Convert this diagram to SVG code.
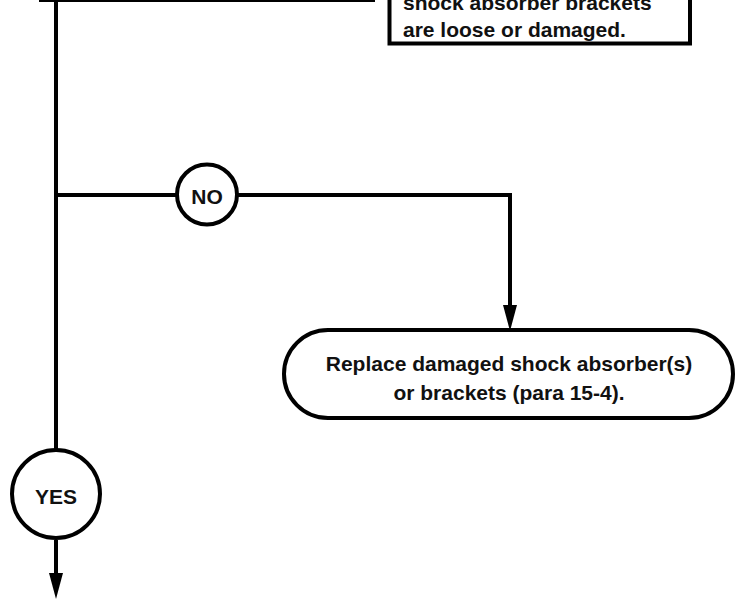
<svg xmlns="http://www.w3.org/2000/svg" width="736" height="602" viewBox="0 0 736 602">
  <style>
    .box { fill: #ffffff; stroke: #000000; stroke-width: 4; }
    .wire { fill: none; stroke: #000000; stroke-width: 4; }
    .lbl { font-family: "Liberation Sans", Arial, sans-serif; font-weight: bold; font-size: 21px; fill: #111111; }
  </style>
  <defs>
    <marker id="arrow" markerUnits="userSpaceOnUse" markerWidth="14" markerHeight="26" refX="7" refY="26" orient="auto-start-reverse" viewBox="0 0 14 26">
      <path d="M0,0 L14,0 L7,26 Z" fill="#000000"/>
    </marker>
  </defs>

  <!-- connectors -->
  <g id="connectors">
    <!-- main trunk down to the YES circle -->
    <line class="wire" x1="56" y1="0" x2="56" y2="450"/>
    <!-- NO branch -->
    <line class="wire" x1="56" y1="195" x2="177" y2="195"/>
    <polyline class="wire" points="237,195 510,195 510,306"/>
    <path d="M503,305 L517,305 L510,331 Z" fill="#000000"/>
    <!-- YES exit -->
    <line class="wire" x1="56" y1="540" x2="56" y2="574"/>
    <path d="M49,573 L63,573 L56,599 Z" fill="#000000"/>
  </g>

  <!-- upper step box (bottom edge only in view) -->
  <g id="step-top">
    <rect class="box" x="41" y="-100" width="332" height="100"/>
  </g>

  <!-- check box -->
  <g id="check-brackets">
    <rect class="box" x="389.5" y="-80" width="300.5" height="123.5"/>
    <text class="lbl" x="403" y="10">shock absorber brackets</text>
    <text class="lbl" x="403" y="37">are loose or damaged.</text>
  </g>

  <!-- NO decision -->
  <g id="no">
    <circle class="box" cx="207" cy="194.5" r="30"/>
    <text class="lbl" x="207" y="204" text-anchor="middle">NO</text>
  </g>

  <!-- replace action -->
  <g id="replace">
    <rect class="box" x="284" y="330" width="449" height="88" rx="44" ry="44"/>
    <text class="lbl" x="509" y="371" text-anchor="middle">Replace damaged shock absorber(s)</text>
    <text class="lbl" x="509" y="400" text-anchor="middle">or brackets (para 15-4).</text>
  </g>

  <!-- YES decision -->
  <g id="yes">
    <circle class="box" cx="56" cy="494" r="44"/>
    <text class="lbl" x="56" y="504" text-anchor="middle">YES</text>
  </g>
</svg>
